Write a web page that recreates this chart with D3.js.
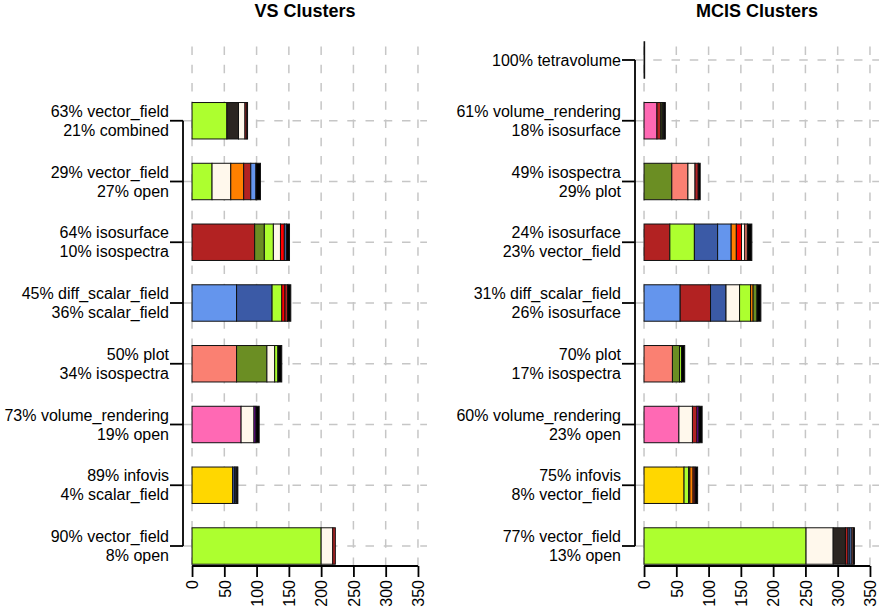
<!DOCTYPE html>
<html>
<head>
<meta charset="utf-8">
<script src="https://cdn.jsdelivr.net/npm/d3@7"></script>
<style>
  body { margin: 0; background: #fff; }
  text { font-family: "Liberation Sans", Arial, Helvetica, sans-serif; fill: #000; }
</style>
</head>
<body>
<svg id="chart" width="881" height="610"></svg>
<script>
// Task categories and their fill colours
const categories = [
  "vector_field", "combined", "open", "isosurface", "isospectra",
  "diff_scalar_field", "scalar_field", "plot", "volume_rendering",
  "infovis", "tetravolume", "streamline", "slice", "glyph", "other"
];
const categoryColors = [
  "#adff2f", "#2b2521", "#fff8ec", "#b22222", "#6b8e23",
  "#6495ed", "#3b5aa6", "#fa8072", "#ff69b4",
  "#ffd700", "#000000", "#ff8000", "#ff0000", "#9400d3", "#000000"
];

const xTicks = [0, 50, 100, 150, 200, 250, 300, 350];

// Cluster composition (counts per category, in drawing order), top to bottom
const vsClusters = [
  [["vector_field", 54], ["combined", 18], ["open", 10], ["isosurface", 3], ["other", 1]],
  [["vector_field", 31], ["open", 29], ["streamline", 20], ["isosurface", 11], ["diff_scalar_field", 8], ["other", 7]],
  [["isosurface", 97], ["isospectra", 15], ["vector_field", 14], ["open", 11], ["slice", 6], ["diff_scalar_field", 3], ["other", 5]],
  [["diff_scalar_field", 69], ["scalar_field", 55], ["vector_field", 15], ["slice", 5], ["isosurface", 4], ["other", 5]],
  [["plot", 69], ["isospectra", 47], ["open", 12], ["vector_field", 5], ["other", 6]],
  [["volume_rendering", 76], ["open", 20], ["glyph", 3], ["other", 5]],
  [["infovis", 63], ["scalar_field", 3], ["diff_scalar_field", 2], ["combined", 2], ["other", 1]],
  [["vector_field", 200], ["open", 18], ["isosurface", 4]]
];

const mcisClusters = [
  [["tetravolume", 1]],
  [["volume_rendering", 20], ["isosurface", 6], ["isospectra", 2], ["combined", 3], ["other", 2]],
  [["isospectra", 43], ["plot", 25], ["open", 11], ["isosurface", 5], ["other", 3]],
  [["isosurface", 40], ["vector_field", 38], ["scalar_field", 36], ["diff_scalar_field", 21], ["streamline", 8], ["slice", 8], ["open", 5], ["plot", 4], ["other", 7]],
  [["diff_scalar_field", 56], ["isosurface", 47], ["scalar_field", 24], ["open", 21], ["vector_field", 17], ["streamline", 4], ["isospectra", 6], ["other", 6]],
  [["plot", 44], ["isospectra", 11], ["vector_field", 3], ["other", 5]],
  [["volume_rendering", 54], ["open", 21], ["isosurface", 7], ["glyph", 3], ["other", 5]],
  [["infovis", 62], ["vector_field", 7], ["isospectra", 2], ["streamline", 5], ["isosurface", 3], ["other", 4]],
  [["vector_field", 251], ["open", 42], ["combined", 19], ["isosurface", 4], ["scalar_field", 3], ["diff_scalar_field", 3], ["plot", 2], ["other", 2]]
];

const svg = d3.select("#chart");
const color = d3.scaleOrdinal(categories, categoryColors);
const rowY = d3.scalePoint(d3.range(9), [60, 546]);
const barH = rowY.step() * 0.6;
const axisY = 566;
const gridTop = 46.5;
const gridColor = "#c6c6c6";
const dash = "8.5,9.75";

// Two-line label: the two largest shares of a cluster
function clusterLabel(segs) {
  const total = d3.sum(segs, d => d[1]);
  const top = segs.slice().sort((a, b) => b[1] - a[1]).slice(0, 2);
  return top.map(d => `${Math.round(100 * d[1] / total)}% ${d[0]}`);
}

function drawPanel(title, clusters, firstRow, x0, x1) {
  const x = d3.scaleLinear([-14, 364], [x0, x1]);
  const g = svg.append("g");
  const rows = clusters.map((segs, i) => ({ row: firstRow + i, segs }));

  // grid
  const grid = g.append("g").attr("stroke", gridColor).attr("stroke-width", 1.5)
    .attr("stroke-dasharray", dash).attr("fill", "none");
  grid.selectAll("line.v").data(xTicks).join("line").attr("class", "v")
    .attr("x1", d => x(d)).attr("x2", d => x(d))
    .attr("y1", gridTop).attr("y2", axisY);
  grid.selectAll("line.h").data(rows).join("line").attr("class", "h")
    .attr("x1", x(-14)).attr("x2", x(364))
    .attr("y1", d => rowY(d.row)).attr("y2", d => rowY(d.row));

  // stacked bars
  rows.forEach(r => {
    let acc = 0;
    const parts = r.segs.map(([cat, v]) => {
      const p = { cat, start: acc, end: acc + v };
      acc += v;
      return p;
    });
    g.append("g").selectAll("rect").data(parts).join("rect")
      .attr("x", d => x(d.start))
      .attr("width", d => x(d.end) - x(d.start))
      .attr("y", rowY(r.row) - barH / 2)
      .attr("height", barH)
      .attr("fill", d => color(d.cat))
      .attr("stroke", "#111")
      .attr("stroke-width", 1);
  });

  // x axis
  const xa = g.append("g").attr("transform", `translate(0,${axisY})`)
    .call(d3.axisBottom(x).tickValues(xTicks).tickSize(11).tickSizeOuter(0).tickFormat(d3.format("d")));
  xa.select(".domain").attr("d", `M${x(0)},0H${x(350)}`).attr("stroke-width", 1.8);
  xa.selectAll(".tick line").attr("stroke-width", 1.8);
  xa.selectAll(".tick text")
    .attr("transform", "rotate(-90)")
    .attr("x", -14).attr("y", 0).attr("dy", "0.36em")
    .attr("text-anchor", "end")
    .style("font-size", "16px")
    .style("font-family", "'Liberation Sans', Arial, sans-serif");

  // y axis with cluster labels
  const ya = g.append("g");
  ya.append("line")
    .attr("x1", x0).attr("x2", x0)
    .attr("y1", rowY(rows[0].row)).attr("y2", rowY(rows[rows.length - 1].row))
    .attr("stroke", "#000").attr("stroke-width", 1.8);
  ya.selectAll("line.t").data(rows).join("line").attr("class", "t")
    .attr("x1", x0 - 13).attr("x2", x0)
    .attr("y1", d => rowY(d.row)).attr("y2", d => rowY(d.row))
    .attr("stroke", "#000").attr("stroke-width", 1.8);
  ya.selectAll("text").data(rows).join("text")
    .attr("text-anchor", "end")
    .style("font-size", "16px")
    .each(function (d) {
      const lines = clusterLabel(d.segs);
      const cy = rowY(d.row);
      const t = d3.select(this);
      if (lines.length === 1) {
        t.append("tspan").attr("x", x0 - 14).attr("y", cy + 5.7).text(lines[0]);
      } else {
        t.append("tspan").attr("x", x0 - 14).attr("y", cy - 4).text(lines[0]);
        t.append("tspan").attr("x", x0 - 14).attr("y", cy + 15).text(lines[1]);
      }
    });

  // title
  g.append("text")
    .attr("x", (x0 + x1) / 2).attr("y", 17)
    .attr("text-anchor", "middle")
    .style("font-size", "18px").style("font-weight", "bold")
    .text(title);
}

drawPanel("VS Clusters", vsClusters, 1, 183, 427);
drawPanel("MCIS Clusters", mcisClusters, 0, 635, 879);
</script>
</body>
</html>
